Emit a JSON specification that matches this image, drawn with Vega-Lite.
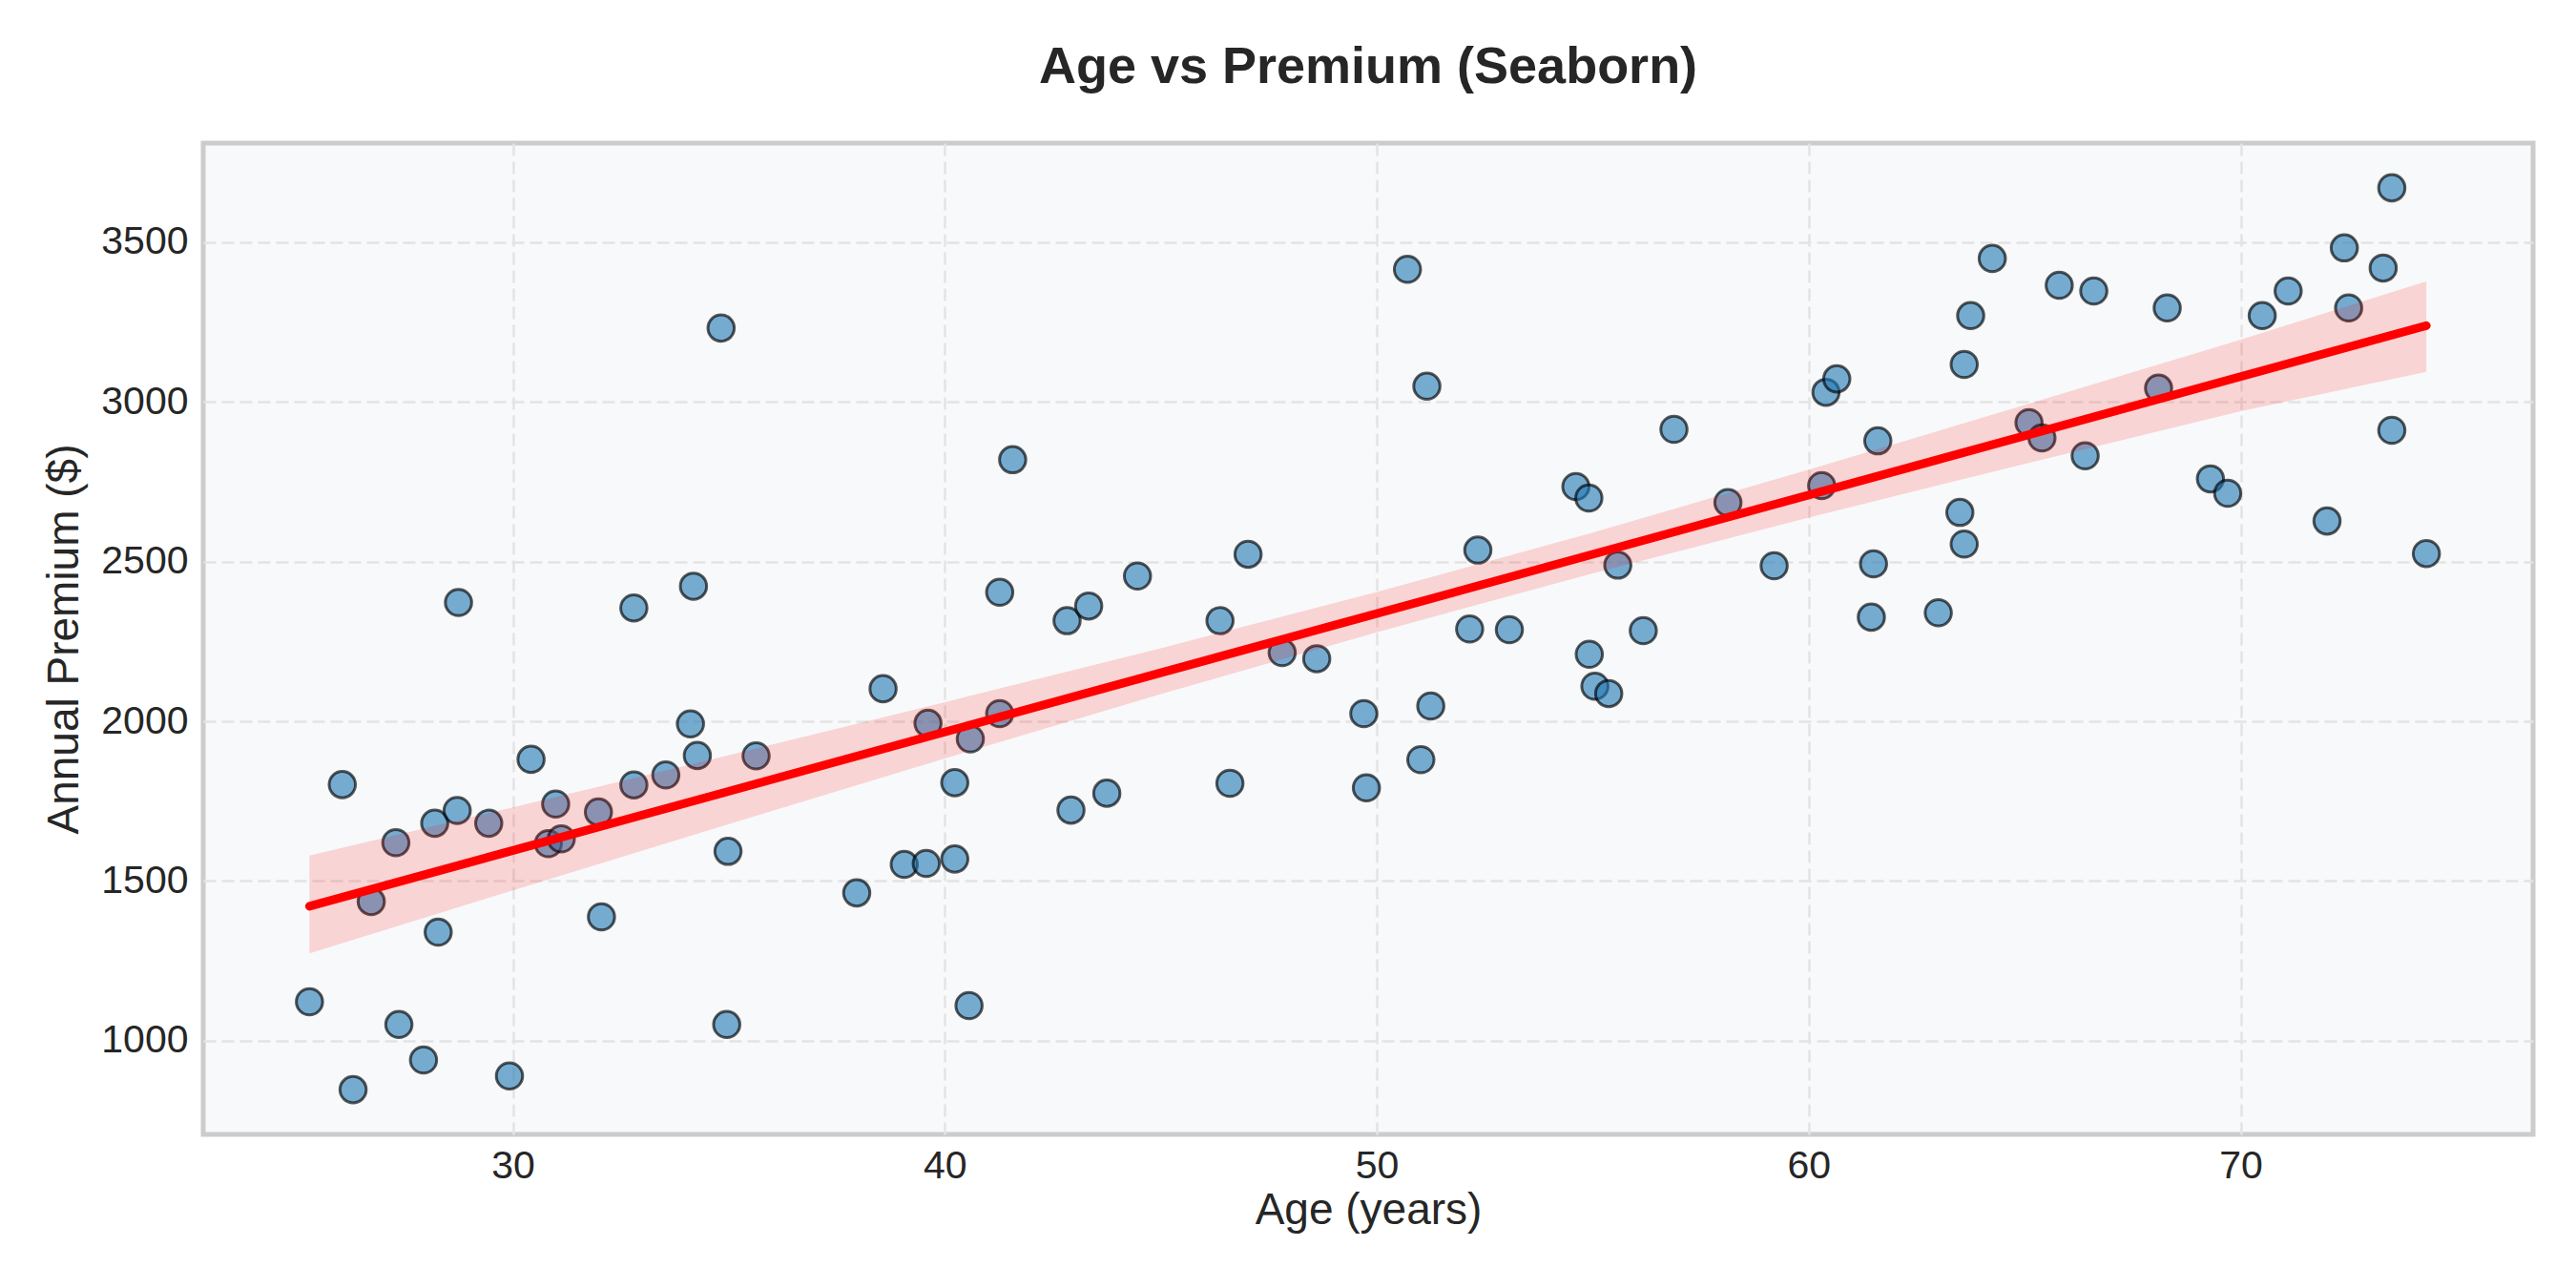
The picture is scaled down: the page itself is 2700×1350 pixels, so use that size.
{
  "$schema": "https://vega.github.io/schema/vega-lite/v6.json",
  "width": 2442,
  "height": 1039,
  "autosize": {"type": "none"},
  "padding": {"left": 213, "top": 150, "right": 45, "bottom": 161},
  "background": "#ffffff",
  "title": {
    "text": "Age vs Premium (Seaborn)",
    "fontSize": 54,
    "font": "Liberation Sans",
    "fontWeight": "bold",
    "color": "#262626",
    "anchor": "middle",
    "offset": 52
  },
  "datasets": {
    "points": [
      {"age": 25.29, "premium": 1122}, {"age": 26.30, "premium": 847}, {"age": 26.05, "premium": 1802},
      {"age": 26.72, "premium": 1436}, {"age": 27.29, "premium": 1620}, {"age": 27.36, "premium": 1051},
      {"age": 27.93, "premium": 940}, {"age": 28.19, "premium": 1681}, {"age": 28.27, "premium": 1340},
      {"age": 28.74, "premium": 2372}, {"age": 28.71, "premium": 1721}, {"age": 29.44, "premium": 1681},
      {"age": 29.92, "premium": 890}, {"age": 30.42, "premium": 1881}, {"age": 30.82, "premium": 1617},
      {"age": 30.99, "premium": 1741}, {"age": 31.12, "premium": 1632}, {"age": 31.98, "premium": 1716},
      {"age": 32.05, "premium": 1388}, {"age": 32.80, "premium": 2355}, {"age": 32.80, "premium": 1801},
      {"age": 33.54, "premium": 1832}, {"age": 34.11, "premium": 1992}, {"age": 34.18, "premium": 2423},
      {"age": 34.27, "premium": 1893}, {"age": 34.82, "premium": 3231}, {"age": 34.98, "premium": 1593},
      {"age": 34.95, "premium": 1051}, {"age": 35.63, "premium": 1892}, {"age": 37.96, "premium": 1463},
      {"age": 38.57, "premium": 2102}, {"age": 39.06, "premium": 1552}, {"age": 39.57, "premium": 1555},
      {"age": 39.61, "premium": 1994}, {"age": 40.23, "premium": 1808}, {"age": 40.23, "premium": 1569},
      {"age": 40.59, "premium": 1945}, {"age": 40.56, "premium": 1110}, {"age": 41.27, "premium": 2404},
      {"age": 41.27, "premium": 2024}, {"age": 41.57, "premium": 2819}, {"age": 42.83, "premium": 2315},
      {"age": 42.92, "premium": 1722}, {"age": 43.33, "premium": 2361}, {"age": 43.75, "premium": 1775},
      {"age": 44.46, "premium": 2455}, {"age": 46.37, "premium": 2315}, {"age": 46.60, "premium": 1806},
      {"age": 47.02, "premium": 2523}, {"age": 47.81, "premium": 2215}, {"age": 48.61, "premium": 2196},
      {"age": 49.70, "premium": 2024}, {"age": 49.76, "premium": 1792}, {"age": 50.71, "premium": 3415},
      {"age": 51.16, "premium": 3049}, {"age": 51.02, "premium": 1880}, {"age": 51.25, "premium": 2048},
      {"age": 52.15, "premium": 2289}, {"age": 52.34, "premium": 2536}, {"age": 53.07, "premium": 2287},
      {"age": 54.61, "premium": 2735}, {"age": 54.91, "premium": 2699}, {"age": 54.92, "premium": 2210},
      {"age": 55.05, "premium": 2110}, {"age": 55.37, "premium": 2087}, {"age": 55.58, "premium": 2489},
      {"age": 56.17, "premium": 2284}, {"age": 56.88, "premium": 2914}, {"age": 58.13, "premium": 2685},
      {"age": 59.20, "premium": 2487}, {"age": 60.30, "premium": 2738}, {"age": 60.40, "premium": 3030},
      {"age": 60.65, "premium": 3072}, {"age": 61.50, "premium": 2493}, {"age": 61.45, "premium": 2326},
      {"age": 61.60, "premium": 2878}, {"age": 63.00, "premium": 2340}, {"age": 63.50, "premium": 2654},
      {"age": 63.60, "premium": 2555}, {"age": 63.60, "premium": 3117}, {"age": 63.75, "premium": 3270},
      {"age": 64.25, "premium": 3449}, {"age": 65.10, "premium": 2935}, {"age": 65.40, "premium": 2887},
      {"age": 65.80, "premium": 3365}, {"age": 66.40, "premium": 2831}, {"age": 66.60, "premium": 3347},
      {"age": 68.10, "premium": 3043}, {"age": 68.30, "premium": 3294}, {"age": 69.30, "premium": 2759},
      {"age": 69.70, "premium": 2714}, {"age": 70.50, "premium": 3270}, {"age": 71.10, "premium": 3347},
      {"age": 72.00, "premium": 2627}, {"age": 72.40, "premium": 3482}, {"age": 72.50, "premium": 3294},
      {"age": 73.30, "premium": 3419}, {"age": 73.50, "premium": 3670}, {"age": 73.50, "premium": 2911},
      {"age": 74.30, "premium": 2525}
    ],
    "band": [
      {"age": 25.29, "lower": 1274, "upper": 1580},
      {"age": 30, "lower": 1471, "upper": 1731},
      {"age": 35, "lower": 1678, "upper": 1894},
      {"age": 40, "lower": 1884, "upper": 2060},
      {"age": 45, "lower": 2085, "upper": 2229},
      {"age": 50, "lower": 2279, "upper": 2405},
      {"age": 55, "lower": 2463, "upper": 2591},
      {"age": 60, "lower": 2638, "upper": 2788},
      {"age": 65, "lower": 2806, "upper": 2990},
      {"age": 70, "lower": 2971, "upper": 3195},
      {"age": 74.3, "lower": 3094, "upper": 3377}
    ]
  },
  "layer": [
    {
      "data": {"name": "points"},
      "mark": {"type": "circle", "size": 760, "fill": "#1f77b4", "fillOpacity": 0.6, "stroke": "#000000", "strokeOpacity": 0.65, "strokeWidth": 3},
      "encoding": {
        "x": {"field": "age", "type": "quantitative", "title": "Age (years)", "scale": {"domain": [22.83, 76.77], "nice": false, "zero": false}, "axis": {"values": [30, 40, 50, 60, 70], "format": "d"}},
        "y": {"field": "premium", "type": "quantitative", "title": "Annual Premium ($)", "scale": {"domain": [707, 3810], "nice": false, "zero": false}, "axis": {"values": [1000, 1500, 2000, 2500, 3000, 3500], "format": "d"}}
      }
    },
    {
      "data": {"name": "band"},
      "mark": {"type": "area", "fill": "#ff0000", "fillOpacity": 0.15},
      "encoding": {
        "x": {"field": "age", "type": "quantitative", "title": "Age (years)", "scale": {"domain": [22.83, 76.77], "nice": false, "zero": false}, "axis": {"values": [30, 40, 50, 60, 70], "format": "d"}},
        "y": {"field": "lower", "type": "quantitative", "title": "Annual Premium ($)", "scale": {"domain": [707, 3810], "nice": false, "zero": false}, "axis": {"values": [1000, 1500, 2000, 2500, 3000, 3500], "format": "d"}},
        "y2": {"field": "upper"}
      }
    },
    {
      "data": {"name": "points"},
      "transform": [{"regression": "premium", "on": "age", "extent": [25.29, 74.3]}],
      "mark": {"type": "line", "color": "#ff0000", "strokeWidth": 9, "strokeCap": "round"},
      "encoding": {
        "x": {"field": "age", "type": "quantitative", "title": "Age (years)", "scale": {"domain": [22.83, 76.77], "nice": false, "zero": false}, "axis": {"values": [30, 40, 50, 60, 70], "format": "d"}},
        "y": {"field": "premium", "type": "quantitative", "title": "Annual Premium ($)", "scale": {"domain": [707, 3810], "nice": false, "zero": false}, "axis": {"values": [1000, 1500, 2000, 2500, 3000, 3500], "format": "d"}}
      }
    }
  ],
  "config": {
    "view": {"fill": "#f8f9fa", "stroke": "#cccccc", "strokeWidth": 5},
    "axis": {
      "labelFont": "Liberation Sans",
      "labelFontSize": 41,
      "labelColor": "#262626",
      "titleFont": "Liberation Sans",
      "titleFontSize": 46,
      "titleFontWeight": "normal",
      "titleColor": "#262626",
      "domain": false,
      "ticks": false,
      "tickSize": 0,
      "grid": true,
      "gridColor": "#e3e3e3",
      "gridWidth": 2.5,
      "gridDash": [13, 6]
    },
    "axisX": {"labelPadding": 13, "titlePadding": 4},
    "axisY": {"labelPadding": 16, "titlePadding": 14}
  }
}
